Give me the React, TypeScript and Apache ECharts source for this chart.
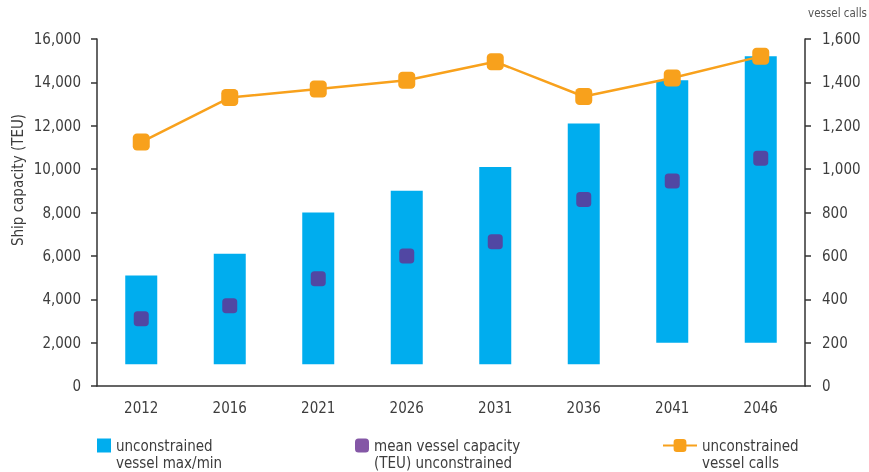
import React, { useEffect, useRef } from "react";
import * as echarts from "echarts";

const years = ["2012", "2016", "2021", "2026", "2031", "2036", "2041", "2046"];
const vesselMin = [1000, 1000, 1000, 1000, 1000, 1000, 2000, 2000];
const vesselMax = [5100, 6100, 8000, 9000, 10100, 12100, 14100, 15200];
const meanCapacity = [3100, 3700, 4950, 6000, 6650, 8600, 9450, 10500];
const vesselCalls = [1125, 1330, 1370, 1410, 1495, 1335, 1420, 1520];

const FONT = "'DejaVu Sans Condensed', 'Liberation Sans Narrow', sans-serif";
const TXT = "#3d3d3d";

export default function App() {
  const ref = useRef<HTMLDivElement>(null);
  useEffect(() => {
    const chart = echarts.init(ref.current!, undefined, { renderer: "svg" });
    const fmt = (v: number) => v.toLocaleString("en-US");
    const legendText = {
      fontFamily: FONT,
      fontSize: 15,
      color: TXT,
      lineHeight: 17,
    };
    const legendFmt = (name: string) => "\u00a0\n" + name;
    chart.setOption({
      animation: false,
      textStyle: { fontFamily: FONT },
      grid: { left: 97, right: 64, top: 39, bottom: 86 },
      xAxis: {
        type: "category",
        data: years,
        axisLine: { lineStyle: { color: "#333", width: 1.5 } },
        axisTick: { length: 7, lineStyle: { color: "#333", width: 1.5 } },
        axisLabel: { color: TXT, fontSize: 15, margin: 14, fontFamily: FONT },
      },
      yAxis: [
        {
          type: "value",
          min: 0,
          max: 16000,
          interval: 2000,
          splitLine: { show: false },
          axisLine: { show: true, lineStyle: { color: "#333", width: 1.5 } },
          axisTick: { show: true, length: 6, lineStyle: { color: "#333", width: 1.5 } },
          axisLabel: { color: TXT, fontSize: 15, margin: 16, formatter: fmt, fontFamily: FONT },
        },
        {
          type: "value",
          min: 0,
          max: 1600,
          interval: 200,
          splitLine: { show: false },
          axisLine: { show: true, lineStyle: { color: "#333", width: 1.5 } },
          axisTick: { show: true, length: 6, lineStyle: { color: "#333", width: 1.5 } },
          axisLabel: { color: TXT, fontSize: 15, margin: 17, formatter: fmt, fontFamily: FONT },
        },
      ],
      graphic: [
        {
          type: "text",
          x: 18,
          y: 180,
          rotation: Math.PI / 2,
          style: {
            text: "Ship capacity (TEU)",
            fontFamily: FONT,
            fontSize: 15,
            fill: TXT,
            align: "center",
            verticalAlign: "middle",
          },
        },
        {
          type: "text",
          x: 867,
          y: 13,
          style: {
            text: "vessel calls",
            fontFamily: FONT,
            fontSize: 11.5,
            fill: "#555",
            align: "right",
            verticalAlign: "middle",
          },
        },
      ],
      legend: [
        {
          left: 97,
          top: 420,
          padding: 0,
          itemWidth: 14,
          itemHeight: 14,
          itemGap: 8,
          data: [{ name: "unconstrained\nvessel max/min", icon: "rect" }],
          formatter: legendFmt,
          textStyle: legendText,
        },
        {
          left: 355,
          top: 420,
          padding: 0,
          itemWidth: 14,
          itemHeight: 14,
          data: [{ name: "mean vessel capacity\n(TEU) unconstrained", icon: "roundRect" }],
          formatter: legendFmt,
          textStyle: legendText,
        },
        {
          left: 662,
          top: 420,
          padding: 0,
          itemWidth: 34,
          itemHeight: 16,
          data: ["unconstrained\nvessel calls"],
          formatter: legendFmt,
          textStyle: legendText,
        },
      ],
      series: [
        {
          name: "base",
          type: "bar",
          stack: "range",
          barWidth: 32,
          itemStyle: { color: "transparent" },
          data: vesselMin,
          silent: true,
        },
        {
          name: "unconstrained\nvessel max/min",
          type: "bar",
          stack: "range",
          barWidth: 32,
          itemStyle: { color: "#00adee" },
          data: vesselMax.map((v, i) => v - vesselMin[i]),
        },
        {
          name: "mean vessel capacity\n(TEU) unconstrained",
          type: "scatter",
          symbol: "roundRect",
          symbolSize: 15,
          itemStyle: { color: "#652d90" },
          data: meanCapacity,
          z: 5,
        },
        {
          name: "unconstrained\nvessel calls",
          type: "line",
          yAxisIndex: 1,
          symbol: "roundRect",
          symbolSize: 17,
          itemStyle: { color: "#f8a11c" },
          lineStyle: { color: "#f8a11c", width: 2.5 },
          data: vesselCalls,
          z: 6,
        },
      ],
    });
    return () => chart.dispose();
  }, []);
  return (
    <div
      ref={ref}
      style={{ position: "fixed", left: 0, top: 0, width: 869, height: 472, overflow: "hidden" }}
    />
  );
}
